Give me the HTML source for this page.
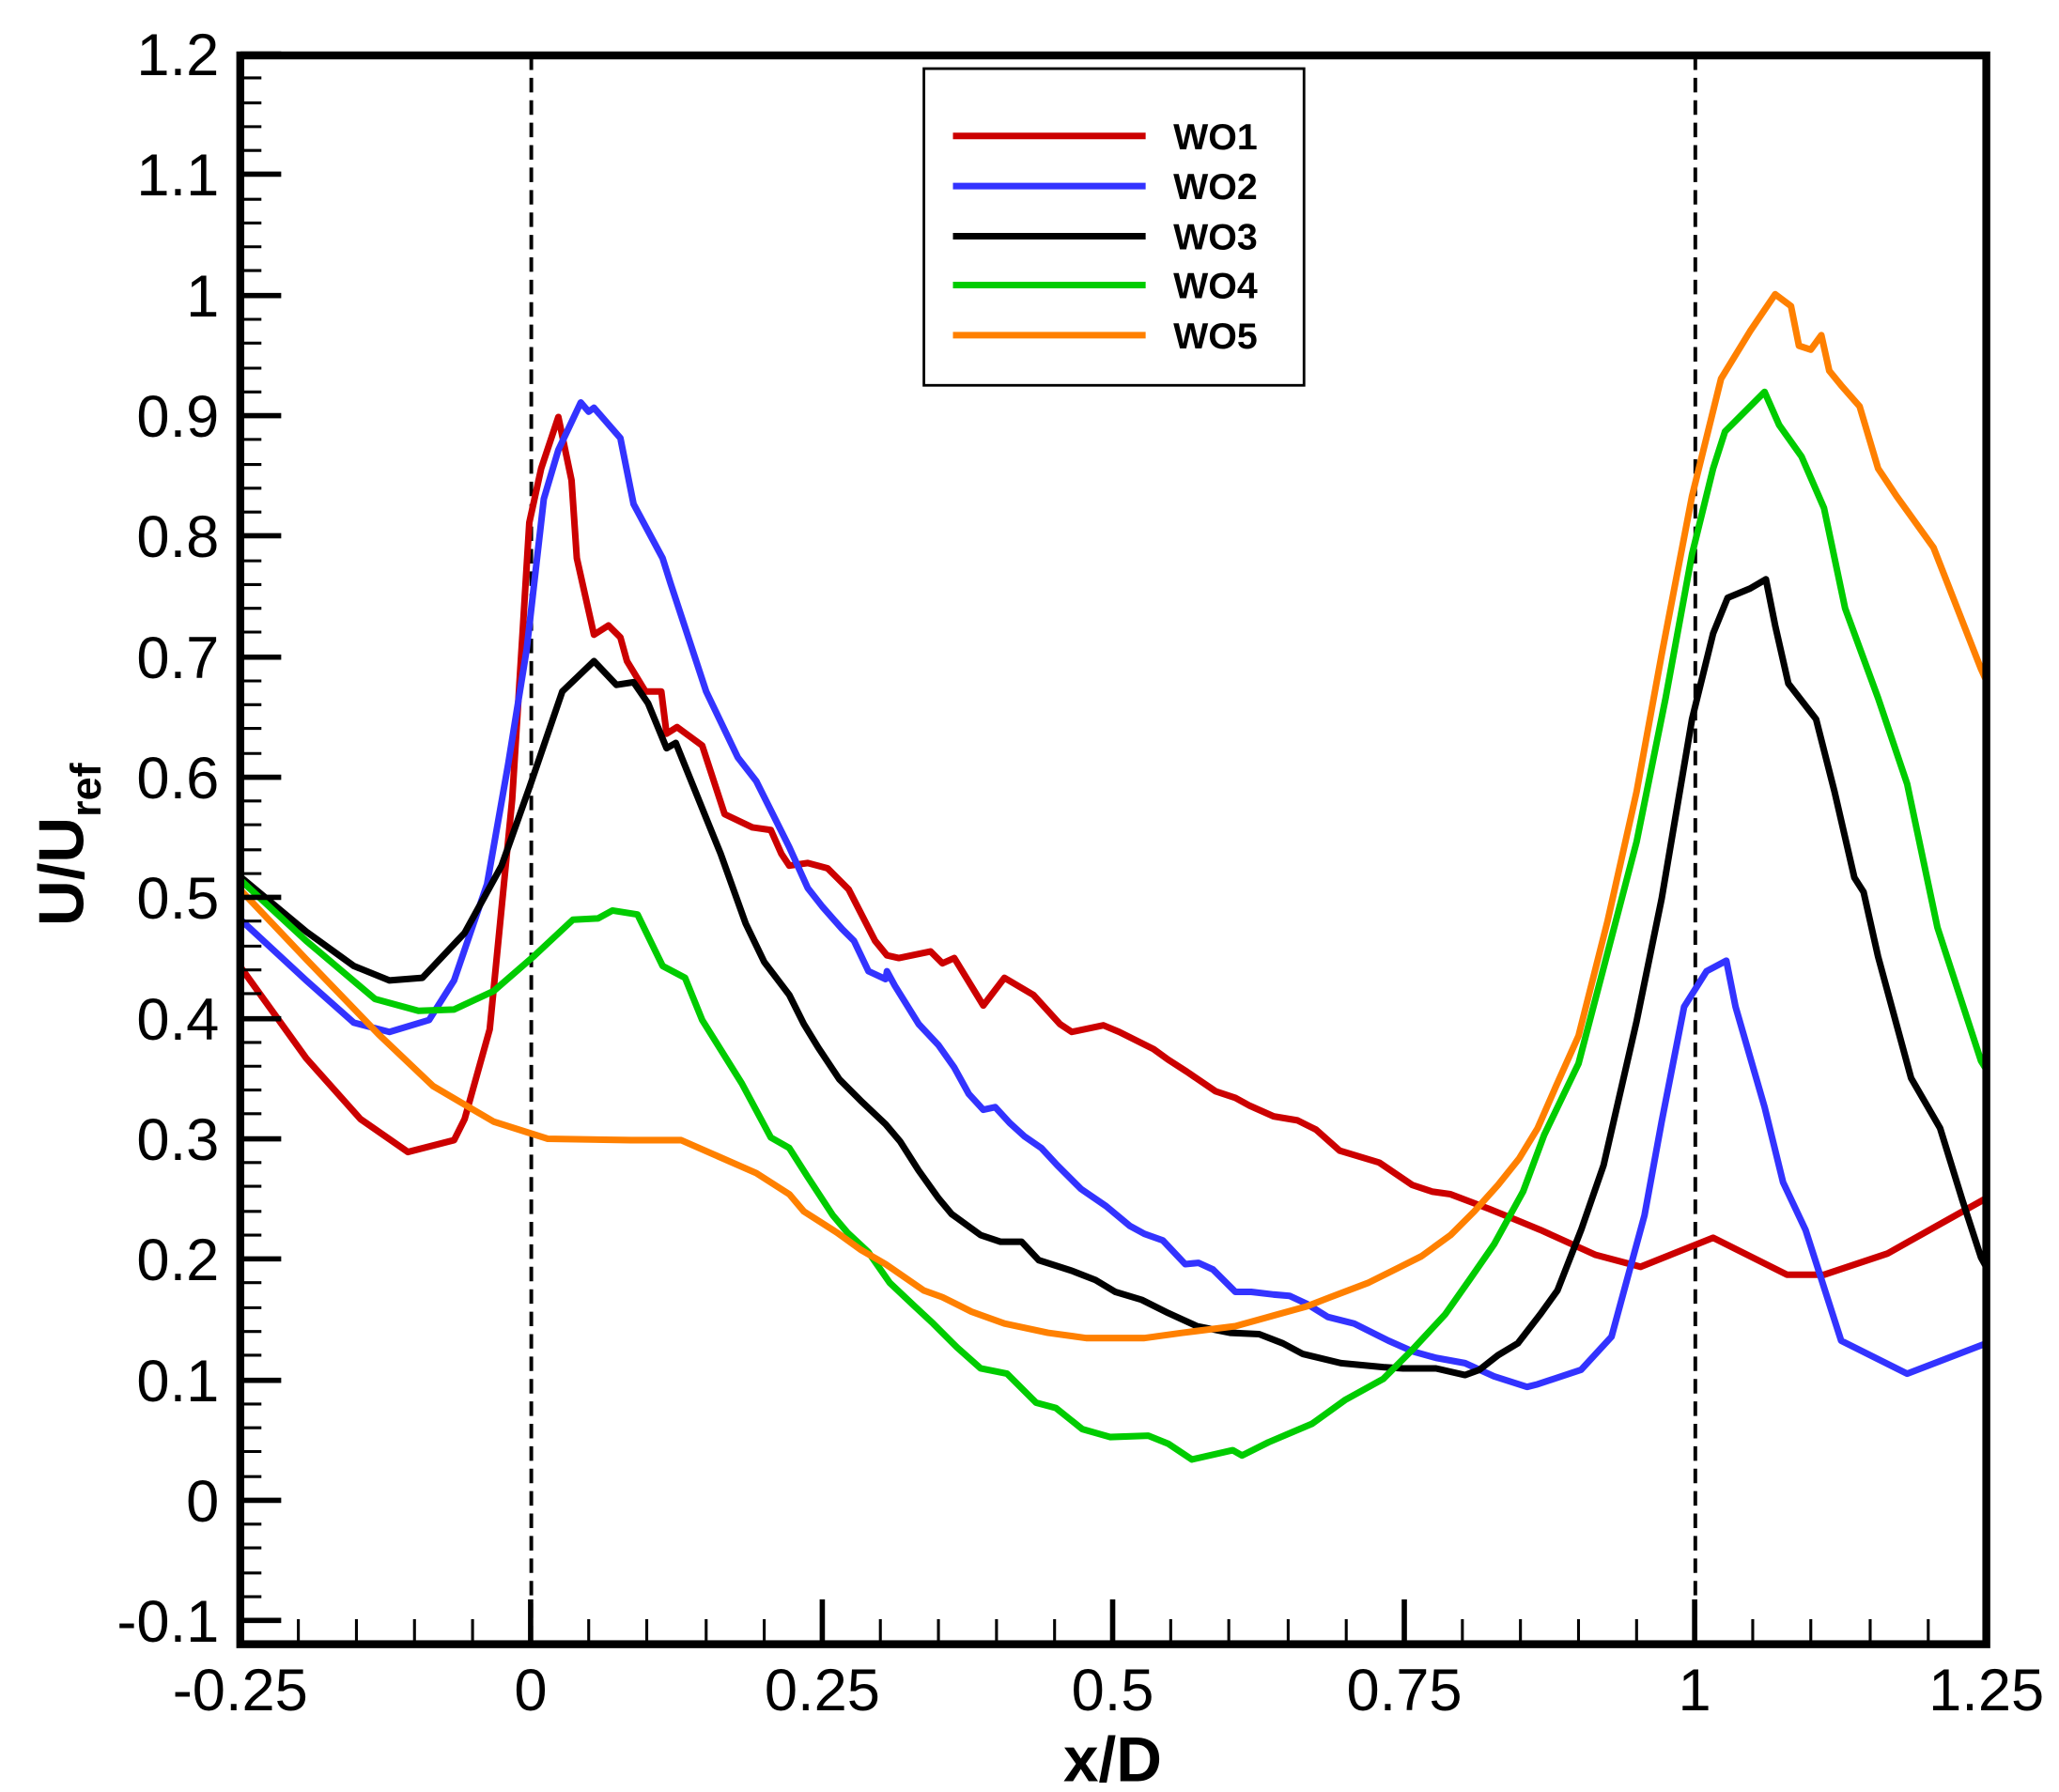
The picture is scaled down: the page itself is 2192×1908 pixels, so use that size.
<!DOCTYPE html>
<html><head><meta charset="utf-8"><style>html,body{margin:0;padding:0;background:#fff}svg{display:block}</style></head>
<body>
<svg xmlns="http://www.w3.org/2000/svg" width="2192" height="1908" viewBox="0 0 1560 1358" font-family="Liberation Sans, Arial, sans-serif">
<rect width="1560" height="1358" fill="#fff"/>
<defs><clipPath id="c"><rect x="182" y="42" width="1323" height="1204"/></clipPath></defs>
<line x1="402.5" y1="42" x2="402.5" y2="1246" stroke="#000" stroke-width="2.8" stroke-dasharray="11,6"/>
<line x1="1284.5" y1="42" x2="1284.5" y2="1246" stroke="#000" stroke-width="2.8" stroke-dasharray="11,6"/>
<g fill="none" stroke-width="5" stroke-linejoin="round" stroke-linecap="round" clip-path="url(#c)">
<polyline stroke="#cc0000" points="178,727 232,802 273,848 309,873 344,864 352,848 371,780 380,688 388,606 396,478 401,396 410,355 423,316 433,364 437,423 450,481 461,474 470,483 475,501 489,524 501,524 505,556 513,551 532,565 549,617 570,627 584,629 592,647 598,656 612,654 627,658 643,674 663,713 672,724 681,726 705,721 714,730 723,726 745,762 761,741 783,754 803,776 812,782 836,777 848,782 874,795 885,803 899,812 921,827 936,832 947,838 965,846 983,849 997,856 1015,872 1045,881 1070,898 1085,903 1099,905 1128,916 1150,925 1167,932 1209,951 1243,960 1298,938 1354,966 1382,966 1430,950 1505,908"/>
<polyline stroke="#3333ff" points="178,693 232,743 268,775 295,782 325,773 344,743 369,670 385,579 399,492 412,378 423,341 440,305 446,312 450,309 470,332 480,382 502,423 508,442 535,524 559,574 573,592 598,642 612,673 623,687 638,704 647,713 658,736 671,742 672,736 678,747 696,776 711,792 723,809 734,829 745,841 754,839 765,851 776,861 789,870 801,883 819,901 838,914 856,929 867,935 881,940 898,958 908,957 919,962 936,979 948,979 965,981 977,982 990,988 1006,998 1026,1003 1052,1016 1070,1024 1088,1029 1110,1033 1132,1043 1157,1051 1165,1049 1198,1038 1221,1013 1246,921 1259,850 1276,763 1293,736 1308,728 1315,763 1337,839 1351,896 1368,932 1395,1016 1445,1041 1505,1018"/>
<polyline stroke="#000000" points="178,661 232,706 268,732 295,743 320,741 352,707 380,656 401,597 426,524 450,501 467,519 480,517 491,533 505,567 512,563 535,620 546,647 565,700 579,729 598,754 609,776 620,794 636,818 652,834 671,852 682,865 696,887 711,908 721,920 743,936 758,941 774,941 787,955 812,963 830,970 845,979 865,985 885,995 907,1005 932,1010 954,1011 972,1018 987,1026 1016,1033 1048,1036 1063,1037 1088,1037 1110,1042 1121,1038 1135,1027 1150,1018 1167,996 1180,978 1198,932 1215,883 1240,774 1259,681 1282,545 1298,480 1309,453 1326,446 1338,439 1345,474 1355,518 1376,545 1390,600 1405,665 1412,676 1423,725 1448,817 1470,855 1487,910 1501,953 1506,962"/>
<polyline stroke="#00cc00" points="178,663 232,713 284,757 317,766 344,765 374,751 404,725 434,697 453,696 464,690 483,693 502,732 519,741 532,773 562,821 584,862 598,870 612,892 631,921 642,934 658,949 674,972 692,989 707,1003 725,1021 743,1037 763,1041 785,1063 800,1067 820,1083 841,1089 870,1088 885,1094 903,1106 934,1099 941,1103 961,1093 994,1079 1019,1061 1048,1045 1070,1023 1095,996 1114,969 1132,943 1154,903 1170,860 1196,806 1218,722 1240,638 1262,529 1282,420 1298,355 1307,327 1318,316 1337,297 1348,322 1365,346 1382,385 1398,461 1423,529 1445,594 1468,703 1501,804 1506,812"/>
<polyline stroke="#ff8000" points="178,670 232,727 287,784 328,823 374,850 415,863 478,864 516,864 573,889 598,905 609,918 634,934 652,947 671,958 700,978 714,983 736,994 761,1003 794,1010 823,1014 867,1014 896,1010 936,1005 961,998 990,990 1008,983 1037,972 1059,961 1077,952 1099,936 1117,918 1135,898 1151,878 1165,855 1179,823 1196,785 1218,698 1240,600 1259,496 1282,376 1304,287 1326,251 1345,223 1357,232 1363,262 1372,265 1380,254 1386,281 1395,292 1409,308 1423,355 1437,376 1465,415 1501,507 1506,518"/>
</g>
<g stroke="#000">
<path stroke-width="4" d="M182,41h31M182,132h31M182,224h31M182,315h31M182,406h31M182,498h31M182,589h31M182,680h31M182,772h31M182,863h31M182,954h31M182,1046h31M182,1137h31M182,1228h31"/>
<path stroke-width="2.2" d="M182,59h16M182,78h16M182,96h16M182,114h16M182,151h16M182,169h16M182,187h16M182,205h16M182,242h16M182,260h16M182,279h16M182,297h16M182,333h16M182,352h16M182,370h16M182,388h16M182,425h16M182,443h16M182,461h16M182,479h16M182,516h16M182,534h16M182,552h16M182,571h16M182,607h16M182,625h16M182,644h16M182,662h16M182,698h16M182,717h16M182,735h16M182,753h16M182,790h16M182,808h16M182,826h16M182,844h16M182,881h16M182,899h16M182,918h16M182,936h16M182,972h16M182,991h16M182,1009h16M182,1027h16M182,1064h16M182,1082h16M182,1100h16M182,1119h16M182,1155h16M182,1173h16M182,1192h16M182,1210h16"/>
<path stroke-width="4" d="M402,1246v-34M623,1246v-34M843,1246v-34M1064,1246v-34M1284,1246v-34"/>
<path stroke-width="2.2" d="M226,1246v-19M270,1246v-19M314,1246v-19M358,1246v-19M446,1246v-19M490,1246v-19M535,1246v-19M579,1246v-19M667,1246v-19M711,1246v-19M755,1246v-19M799,1246v-19M887,1246v-19M931,1246v-19M976,1246v-19M1020,1246v-19M1108,1246v-19M1152,1246v-19M1196,1246v-19M1240,1246v-19M1328,1246v-19M1372,1246v-19M1417,1246v-19M1461,1246v-19"/>
</g>
<rect x="182" y="42" width="1323" height="1204" fill="none" stroke="#000" stroke-width="6"/>
<rect x="700" y="52" width="288" height="240" fill="#fff" stroke="#000" stroke-width="2"/>
<g stroke-width="5">
<line x1="722" y1="103" x2="868" y2="103" stroke="#cc0000"/>
<line x1="722" y1="141" x2="868" y2="141" stroke="#3333ff"/>
<line x1="722" y1="179" x2="868" y2="179" stroke="#000"/>
<line x1="722" y1="216" x2="868" y2="216" stroke="#00cc00"/>
<line x1="722" y1="254" x2="868" y2="254" stroke="#ff8000"/>
</g>
<g font-size="28" font-weight="bold">
<text x="889" y="113">WO1</text><text x="889" y="151">WO2</text><text x="889" y="189">WO3</text><text x="889" y="226">WO4</text><text x="889" y="264">WO5</text>
</g>
<g font-size="45" text-anchor="end">
<text x="166" y="57">1.2</text><text x="166" y="148">1.1</text><text x="166" y="240">1</text><text x="166" y="331">0.9</text><text x="166" y="422">0.8</text><text x="166" y="514">0.7</text><text x="166" y="605">0.6</text><text x="166" y="696">0.5</text><text x="166" y="788">0.4</text><text x="166" y="879">0.3</text><text x="166" y="970">0.2</text><text x="166" y="1062">0.1</text><text x="166" y="1153">0</text><text x="166" y="1244">-0.1</text>
</g>
<g font-size="45" text-anchor="middle">
<text x="182" y="1296">-0.25</text><text x="402" y="1296">0</text><text x="623" y="1296">0.25</text><text x="843" y="1296">0.5</text><text x="1064" y="1296">0.75</text><text x="1284" y="1296">1</text><text x="1505" y="1296">1.25</text>
</g>
<text x="843" y="1350" font-size="48" font-weight="bold" text-anchor="middle">x/D</text>
<text transform="translate(63,640) rotate(-90)" font-size="48" font-weight="bold" text-anchor="middle">U/U<tspan font-size="32" dy="13">ref</tspan></text>
</svg>
</body></html>
